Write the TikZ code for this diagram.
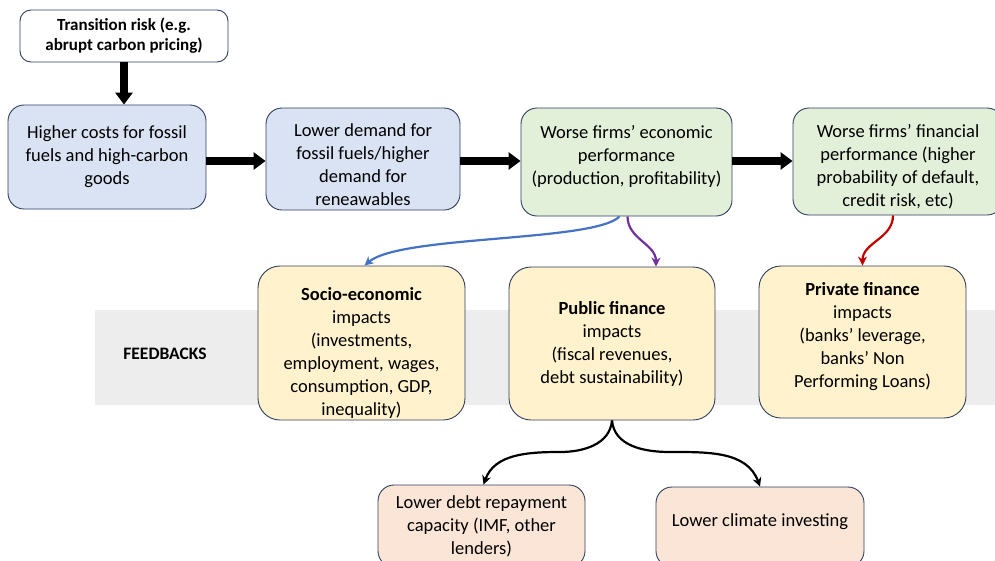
\documentclass[tikz,border=0pt]{standalone}
\usepackage{fontspec}
\setmainfont{Carlito}
\usetikzlibrary{arrows.meta}
\definecolor{bordc}{HTML}{2F3F5F}
\definecolor{bluef}{HTML}{DAE3F3}
\definecolor{greenf}{HTML}{E2F0D9}
\definecolor{yellowf}{HTML}{FFF2CC}
\definecolor{pinkf}{HTML}{FBE5D6}
\definecolor{bandc}{HTML}{EDEDED}
\definecolor{arrblue}{HTML}{4472C4}
\definecolor{arrpurple}{HTML}{7030A0}
\definecolor{arrred}{HTML}{C00000}
\tikzset{
  box/.style={draw=bordc, line width=0.9pt, rounded corners=16pt, align=center,
    inner sep=2pt, font=\fontsize{18.5}{23}\selectfont},
  blk/.style={line width=8pt, -{Triangle[length=12pt,width=17pt]}},
  curvearr/.style={line width=2.2pt, -{Stealth[length=9pt,width=9pt]}},
}
\begin{document}
\begin{tikzpicture}[x=1pt,y=1pt]
\useasboundingbox (0,0) rectangle (995,-560);
\clip (0,0) rectangle (995,-560);
% feedback band
\fill[bandc] (95,-310) rectangle (995,-405);
\node[font=\fontsize{17.5}{20}\selectfont\bfseries] (fb) at (165,-354) {FEEDBACKS};
% top boxes
\node[box, fill=white, minimum width=208pt, minimum height=52pt, rounded corners=11pt,
  font=\fontsize{17}{20}\selectfont\bfseries] (trans) at (124,-36)
  {Transition risk (e.g.\\abrupt carbon pricing)};
\node[box, fill=bluef, minimum width=198pt, minimum height=104pt] (higher) at (107,-157)
  {Higher costs for fossil\\fuels and high-carbon\\goods};
\node[box, fill=bluef, minimum width=194pt, minimum height=102pt] (lower) at (363,-159)
  {Lower demand for\\fossil fuels/higher\\demand for\\reneawables\\[-35pt]};
\node[box, fill=greenf, minimum width=211pt, minimum height=108pt] (econ) at (626.5,-162)
  {Worse firms’ economic\\performance\\(production, profitability)\\[-8pt]};
\node[box, fill=greenf, minimum width=210pt, minimum height=107pt] (fin) at (898,-161.5)
  {Worse firms’ financial\\performance (higher\\probability of default,\\credit risk, etc)\\[-31pt]};
% impact boxes
\node[box, fill=yellowf, minimum width=207pt, minimum height=154pt, rounded corners=22pt] (socio) at (361.5,-343)
  {\textbf{Socio-economic}\\impacts\\(investments,\\employment, wages,\\consumption, GDP,\\inequality)\\[-41pt]};
\node[box, fill=yellowf, minimum width=206pt, minimum height=153pt, rounded corners=22pt] (public) at (612,-343.5)
  {\textbf{Public finance}\\impacts\\(fiscal revenues,\\debt sustainability)};
\node[box, fill=yellowf, minimum width=207pt, minimum height=152pt, rounded corners=22pt] (private) at (862.5,-342)
  {\textbf{Private finance}\\impacts\\(banks’ leverage,\\banks’ Non\\Performing Loans)\\[-9pt]};
% bottom boxes
\node[box, fill=pinkf, minimum width=207pt, minimum height=82pt] (debt) at (481.5,-526)
  {Lower debt repayment\\capacity (IMF, other\\lenders)};
\node[box, fill=pinkf, minimum width=208pt, minimum height=80pt] (climate) at (760,-527)
  {Lower climate investing\\[-10pt]};
% block arrows
\coordinate (ay) at (0,-161);
\draw[blk] (trans.south) -- (trans.south |- higher.north);
\draw[blk] (higher.east |- ay) -- (lower.west |- ay);
\draw[blk] (lower.east |- ay) -- (econ.west |- ay);
\draw[blk] (econ.east |- ay) -- (fin.west |- ay);
% curved arrows
\coordinate (bs) at ([xshift=-7pt]econ.south);
\coordinate (be) at ([xshift=3pt]socio.north);
\draw[curvearr, arrblue] (bs) .. controls (595,-242) and (400,-235) .. (be);
\coordinate (ps) at ([xshift=1pt]econ.south);
\coordinate (pe) at ([xshift=44pt]public.north);
\draw[curvearr, arrpurple] (ps) to[out=-90,in=90] (pe);
\coordinate (rs) at ([xshift=-5pt]fin.south);
\draw[curvearr, arrred] (rs) to[out=-90,in=90] (private.north);
\draw[curvearr, black] (public.south) to[out=-95,in=0] (560,-452) to[out=180,in=70] ([xshift=2pt]debt.north);
\draw[curvearr, black] (public.south) to[out=-85,in=180] (670,-452) to[out=0,in=110] (climate.north);
\end{tikzpicture}
\end{document}
